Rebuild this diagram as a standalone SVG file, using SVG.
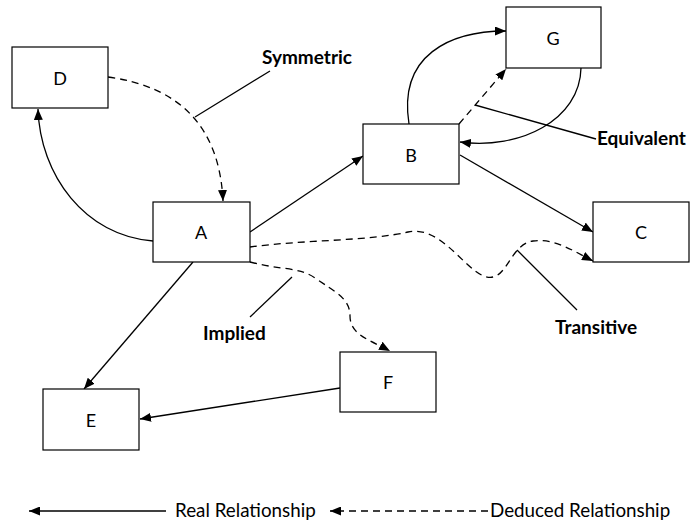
<svg xmlns="http://www.w3.org/2000/svg" width="690" height="525" viewBox="0 0 690 525">
  <style>
    .box { fill: #ffffff; stroke: #000000; stroke-width: 1.2; }
    .nlabel { font-family: Lato, "Liberation Sans", sans-serif; font-size: 18px; fill: #000000; text-anchor: middle; dominant-baseline: central; }
    .tag { font-family: Lato, "Liberation Sans", sans-serif; font-size: 19px; font-weight: bold; fill: #000000; }
    .legend { font-family: Lato, "Liberation Sans", sans-serif; font-size: 18.8px; fill: #000000; }
    .real { fill: none; stroke: #000000; stroke-width: 1.3; marker-end: url(#arrow); }
    .deduced { fill: none; stroke: #000000; stroke-width: 1.3; stroke-dasharray: 7 5; marker-end: url(#arrow); }
    .pointer { fill: none; stroke: #000000; stroke-width: 1.3; }
  </style>
  <defs>
    <marker id="arrow" viewBox="0 0 11 9" refX="11" refY="4.5" markerWidth="11" markerHeight="9" markerUnits="userSpaceOnUse" orient="auto">
      <path d="M0,0 L11,4.5 L0,9 z" fill="#000000" stroke="none"/>
    </marker>
  </defs>

  <rect width="690" height="525" fill="#ffffff"/>

  <!-- connectors -->
  <g id="connectors">
    <!-- D to A, symmetric (deduced) -->
    <path class="deduced" d="M108,77 Q218,92 223,201"/>
    <!-- A to D -->
    <path class="real" d="M153,241 C85,236 40,175 38,109"/>
    <!-- A to B -->
    <path class="real" d="M250,232 L363,156"/>
    <!-- B to G -->
    <path class="real" d="M409,124 C398,55 450,31 506,31"/>
    <!-- B to G, equivalent (deduced) -->
    <path class="deduced" d="M459,124 L506,69"/>
    <!-- G to B -->
    <path class="real" d="M581,68 C580,120 520,150 460,142"/>
    <!-- B to C -->
    <path class="real" d="M460,155 L593,232"/>
    <!-- A to C, transitive (deduced) -->
    <path class="deduced" d="M250,247 C300,240 370,241 408,232 C445,224 470,282 493,277 C508,274 512,244 533,241 C555,238 575,252 593,261"/>
    <!-- A to F, implied (deduced) -->
    <path class="deduced" d="M250,262 C280,270 300,267 315,278 C335,292 350,298 350,316 C350,335 370,340 390,351"/>
    <!-- A to E -->
    <path class="real" d="M193,262 L84,389"/>
    <!-- F to E -->
    <path class="real" d="M340,388 L140,419"/>

    <!-- label pointers -->
    <path class="pointer" d="M195,117 L270,71"/>
    <path class="pointer" d="M475,105 L596,139"/>
    <path class="pointer" d="M517,250 L577,310"/>
    <path class="pointer" d="M292,277 L250,317"/>

    <!-- legend strokes -->
    <path class="real" d="M166,511 L29,511"/>
    <path class="deduced" d="M488,511 L330,511"/>
  </g>

  <!-- nodes -->
  <g id="node-D">
    <rect class="box" x="12" y="47" width="96" height="61"/>
    <text class="nlabel" x="60" y="78">D</text>
  </g>
  <g id="node-A">
    <rect class="box" x="153" y="202" width="97" height="60"/>
    <text class="nlabel" x="201" y="232">A</text>
  </g>
  <g id="node-G">
    <rect class="box" x="506" y="7" width="95" height="61"/>
    <text class="nlabel" x="553" y="38">G</text>
  </g>
  <g id="node-B">
    <rect class="box" x="363" y="124" width="96" height="60"/>
    <text class="nlabel" x="411" y="155">B</text>
  </g>
  <g id="node-C">
    <rect class="box" x="593" y="202" width="96" height="60"/>
    <text class="nlabel" x="641" y="232">C</text>
  </g>
  <g id="node-F">
    <rect class="box" x="340" y="352" width="96" height="60"/>
    <text class="nlabel" x="388" y="382">F</text>
  </g>
  <g id="node-E">
    <rect class="box" x="43" y="389" width="96" height="61"/>
    <text class="nlabel" x="91" y="420">E</text>
  </g>

  <!-- relationship tags -->
  <g id="tags">
    <text class="tag" x="262" y="64">Symmetric</text>
    <text class="tag" x="597" y="145">Equivalent</text>
    <text class="tag" x="555" y="334">Transitive</text>
    <text class="tag" x="203" y="340">Implied</text>
  </g>

  <!-- legend -->
  <g id="legend">
    <text class="legend" x="175" y="517">Real Relationship</text>
    <text class="legend" x="490" y="517">Deduced Relationship</text>
  </g>
</svg>
